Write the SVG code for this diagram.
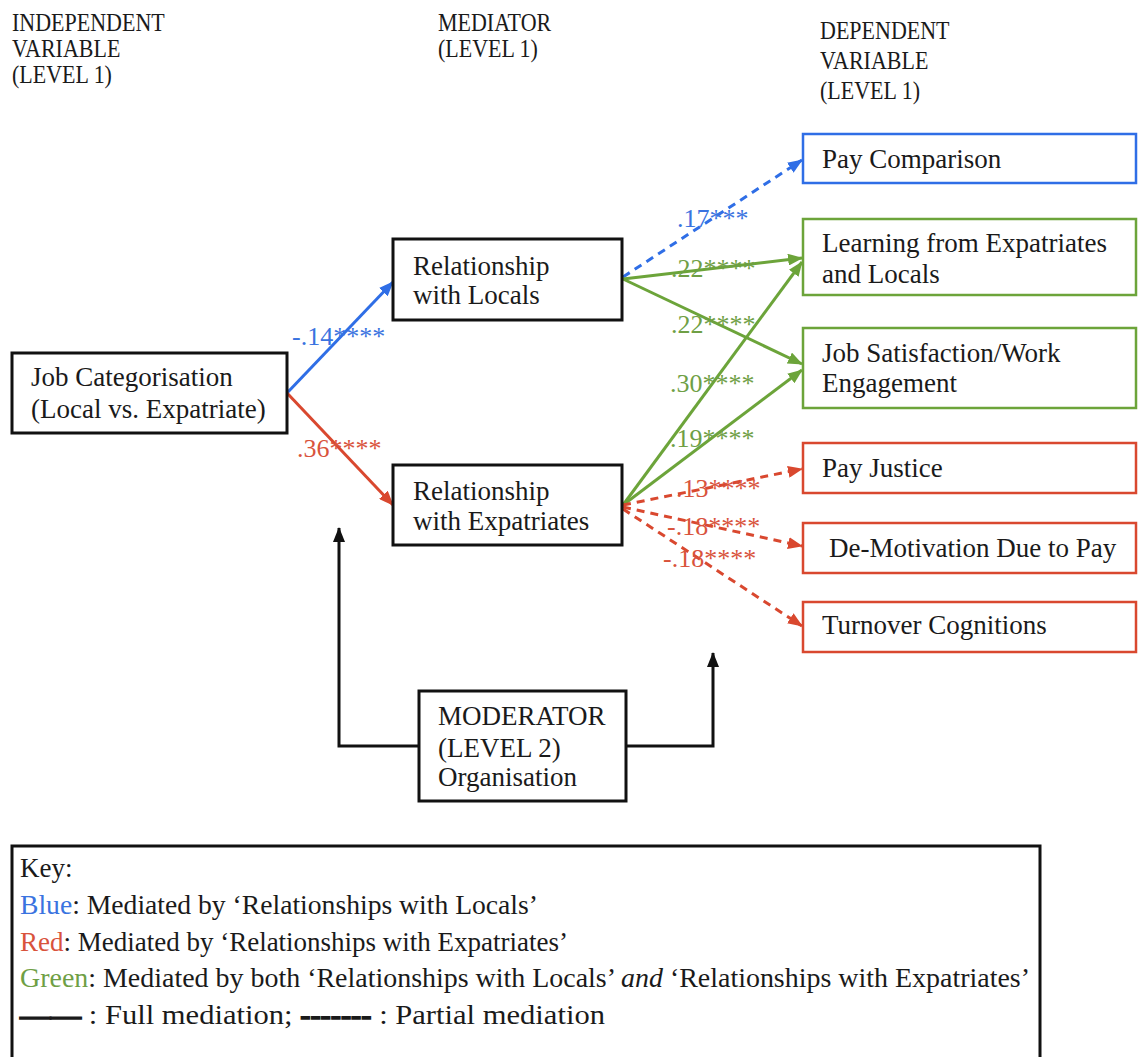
<svg xmlns="http://www.w3.org/2000/svg" width="1139" height="1057" viewBox="0 0 1139 1057">
  <style>
    text { font-family: "Liberation Serif", "Times New Roman", serif; fill: #1a1a1a; }
    .hdr { font-size: 26px; }
    .box-text { font-size: 27px; }
    .lbl { font-size: 26px; }
    .key { font-size: 27px; }
    .thick { font-weight: bold; stroke: #1a1a1a; stroke-width: 1.4; }
    .box-black { fill: #ffffff; stroke: #111111; stroke-width: 3; }
    .box-blue { fill: #ffffff; stroke: #2f6ee6; stroke-width: 2.5; }
    .box-green { fill: #ffffff; stroke: #6ca43a; stroke-width: 2.5; }
    .box-red { fill: #ffffff; stroke: #d9482f; stroke-width: 2.5; }
    .ln { fill: none; stroke-width: 3; }
    .blue { stroke: #2f6ee6; }
    .green { stroke: #6ca43a; }
    .red { stroke: #d9482f; }
    .black { stroke: #111111; }
    .dash { stroke-dasharray: 8 6; }
    .t-blue { fill: #3a73e0; }
    .t-green { fill: #6f9f45; }
    .t-red { fill: #d9533c; }
  </style>
  <defs>
    <marker id="arrowBlue" viewBox="0 0 15 12" refX="14" refY="6" markerWidth="15" markerHeight="12" markerUnits="userSpaceOnUse" orient="auto">
      <path d="M0,0 L15,6 L0,12 z" fill="#2f6ee6"/>
    </marker>
    <marker id="arrowGreen" viewBox="0 0 15 12" refX="14" refY="6" markerWidth="15" markerHeight="12" markerUnits="userSpaceOnUse" orient="auto">
      <path d="M0,0 L15,6 L0,12 z" fill="#6ca43a"/>
    </marker>
    <marker id="arrowRed" viewBox="0 0 15 12" refX="14" refY="6" markerWidth="15" markerHeight="12" markerUnits="userSpaceOnUse" orient="auto">
      <path d="M0,0 L15,6 L0,12 z" fill="#d9482f"/>
    </marker>
    <marker id="arrowBlack" viewBox="0 0 15 12" refX="14" refY="6" markerWidth="15" markerHeight="12" markerUnits="userSpaceOnUse" orient="auto">
      <path d="M0,0 L15,6 L0,12 z" fill="#111111"/>
    </marker>
  </defs>

  <rect width="1139" height="1057" fill="#ffffff"/>

  <!-- column headings (narrow set) -->
  <g id="headings" class="hdr" transform="scale(0.846 1)">
    <text x="14.2" y="31">INDEPENDENT</text>
    <text x="14.2" y="57">VARIABLE</text>
    <text x="14.2" y="83">(LEVEL 1)</text>
    <text x="517.7" y="31">MEDIATOR</text>
    <text x="517.7" y="57">(LEVEL 1)</text>
    <text x="969.3" y="39">DEPENDENT</text>
    <text x="969.3" y="69">VARIABLE</text>
    <text x="969.3" y="99">(LEVEL 1)</text>
  </g>

  <!-- connectors and path coefficients -->
  <g id="connectors">
    <line class="ln blue" x1="287" y1="393" x2="393" y2="282" marker-end="url(#arrowBlue)"/>
    <line class="ln red" x1="287" y1="393" x2="393" y2="505" marker-end="url(#arrowRed)"/>

    <line class="ln blue dash" x1="623" y1="277" x2="802" y2="160" marker-end="url(#arrowBlue)"/>
    <line class="ln green" x1="623" y1="279" x2="802" y2="258" marker-end="url(#arrowGreen)"/>
    <line class="ln green" x1="623" y1="279" x2="802" y2="364" marker-end="url(#arrowGreen)"/>

    <line class="ln green" x1="623" y1="505" x2="802" y2="262" marker-end="url(#arrowGreen)"/>
    <line class="ln green" x1="623" y1="505" x2="802" y2="370" marker-end="url(#arrowGreen)"/>
    <line class="ln red dash" x1="623" y1="505" x2="802" y2="469" marker-end="url(#arrowRed)"/>
    <line class="ln red dash" x1="623" y1="507" x2="802" y2="546" marker-end="url(#arrowRed)"/>
    <line class="ln red dash" x1="623" y1="509" x2="802" y2="626" marker-end="url(#arrowRed)"/>

    <path class="ln black" d="M419,746 H339 V528" marker-end="url(#arrowBlack)"/>
    <path class="ln black" d="M626,746 H713 V653" marker-end="url(#arrowBlack)"/>

    <g class="lbl">
      <text class="t-blue" x="292" y="345">-.14****</text>
      <text class="t-red" x="297" y="457">.36****</text>
      <text class="t-blue" x="677" y="227">.17***</text>
      <text class="t-green" x="671" y="277">.22****</text>
      <text class="t-green" x="671" y="333">.22****</text>
      <text class="t-green" x="670" y="392">.30****</text>
      <text class="t-green" x="670" y="447">.19****</text>
      <text class="t-red" x="676" y="497">.13****</text>
      <text class="t-red" x="667" y="535">-.18****</text>
      <text class="t-red" x="663" y="567">-.18****</text>
    </g>
  </g>

  <!-- independent variable -->
  <g id="job-categorisation" class="box-text">
    <rect class="box-black" x="12" y="353" width="275" height="80"/>
    <text x="31" y="386">Job Categorisation</text>
    <text x="31" y="418">(Local vs. Expatriate)</text>
  </g>

  <!-- mediators -->
  <g id="relationship-locals" class="box-text">
    <rect class="box-black" x="393" y="239" width="229" height="81"/>
    <text x="413" y="275">Relationship</text>
    <text x="413" y="304">with Locals</text>
  </g>
  <g id="relationship-expatriates" class="box-text">
    <rect class="box-black" x="393" y="465" width="229" height="80"/>
    <text x="413" y="500">Relationship</text>
    <text x="413" y="530">with Expatriates</text>
  </g>

  <!-- dependent variables -->
  <g id="pay-comparison" class="box-text">
    <rect class="box-blue" x="803" y="134" width="333" height="49"/>
    <text x="822" y="168">Pay Comparison</text>
  </g>
  <g id="learning" class="box-text">
    <rect class="box-green" x="803" y="219" width="333" height="76"/>
    <text x="822" y="252">Learning from Expatriates</text>
    <text x="822" y="283">and Locals</text>
  </g>
  <g id="job-satisfaction" class="box-text">
    <rect class="box-green" x="803" y="328" width="333" height="80"/>
    <text x="822" y="362">Job Satisfaction/Work</text>
    <text x="822" y="392">Engagement</text>
  </g>
  <g id="pay-justice" class="box-text">
    <rect class="box-red" x="803" y="443" width="333" height="50"/>
    <text x="822" y="477">Pay Justice</text>
  </g>
  <g id="de-motivation" class="box-text">
    <rect class="box-red" x="803" y="523" width="333" height="50"/>
    <text x="829" y="557">De-Motivation Due to Pay</text>
  </g>
  <g id="turnover" class="box-text">
    <rect class="box-red" x="803" y="602" width="333" height="50"/>
    <text x="822" y="634">Turnover Cognitions</text>
  </g>

  <!-- moderator -->
  <g id="moderator" class="box-text">
    <rect class="box-black" x="419" y="691" width="207" height="110"/>
    <text x="438" y="725">MODERATOR</text>
    <text x="438" y="757">(LEVEL 2)</text>
    <text x="438" y="786">Organisation</text>
  </g>

  <!-- key -->
  <g id="key" class="key">
    <rect x="12" y="846" width="1028" height="220" fill="#ffffff" stroke="#111111" stroke-width="3"/>
    <text x="20" y="877">Key:</text>
    <text x="20" y="914" textLength="518" lengthAdjust="spacingAndGlyphs"><tspan class="t-blue">Blue</tspan>: Mediated by ‘Relationships with Locals’</text>
    <text x="20" y="951" textLength="548" lengthAdjust="spacingAndGlyphs"><tspan class="t-red">Red</tspan>: Mediated by ‘Relationships with Expatriates’</text>
    <text x="20" y="987" textLength="1010" lengthAdjust="spacingAndGlyphs"><tspan class="t-green">Green</tspan>: Mediated by both ‘Relationships with Locals’ <tspan font-style="italic">and</tspan> ‘Relationships with Expatriates’</text>
    <text x="20" y="1024" textLength="585" lengthAdjust="spacingAndGlyphs"><tspan class="thick">——</tspan> : Full mediation; <tspan class="thick">-------</tspan> : Partial mediation</text>
  </g>
</svg>
